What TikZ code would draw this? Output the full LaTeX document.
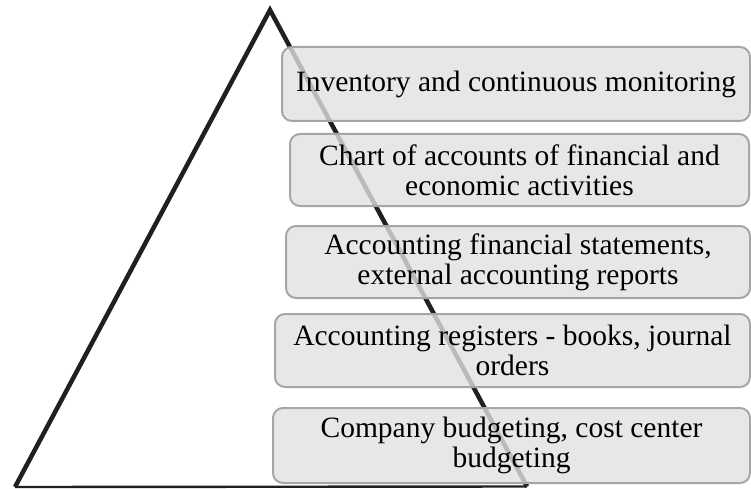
\documentclass[tikz,border=0pt]{standalone}
\usepackage{fontspec}
\setmainfont{Liberation Serif}
\begin{document}
\begin{tikzpicture}[x=1pt,y=-1pt,
  layerbox/.style={draw=boxline, line width=2pt, fill=boxfill, fill opacity=0.8, text opacity=1,
    rounded corners=10pt, align=center, inner sep=0pt,
    font=\fontsize{29.5}{30}\selectfont, text=black},
  pyrline/.style={line width=4.5pt, draw=pyrcol, line join=miter}
]
\definecolor{boxfill}{HTML}{E0E1E3}
\definecolor{boxline}{HTML}{A6A6A8}
\definecolor{pyrcol}{HTML}{231F20}
\useasboundingbox (0,0) rectangle (751,489);
\coordinate (apex) at (270,10);
\coordinate (bl) at (15,487);
\coordinate (br) at (527,486.5);
\draw[pyrline] (bl) -- (apex) -- (br);
\draw[line width=2.4pt, draw=pyrcol] (bl) -- (br);
\node[layerbox, minimum width=468pt, minimum height=74pt] (b1) at (516,84)
  {Inventory and continuous monitoring};
\node[layerbox, minimum width=459pt, minimum height=72pt] (b2) at (519.5,170)
  {Chart of accounts of financial and\\economic activities};
\node[layerbox, minimum width=464pt, minimum height=72pt] (b3) at (518,262)
  {Accounting financial statements,\\external accounting reports};
\node[layerbox, minimum width=475pt, minimum height=73pt] (b4) at (512.5,350.5)
  {Accounting registers - books, journal\\orders};
\node[layerbox, minimum width=477pt, minimum height=75pt] (b5) at (511.5,445.5)
  {Company budgeting, cost center\\budgeting};
\end{tikzpicture}
\end{document}
